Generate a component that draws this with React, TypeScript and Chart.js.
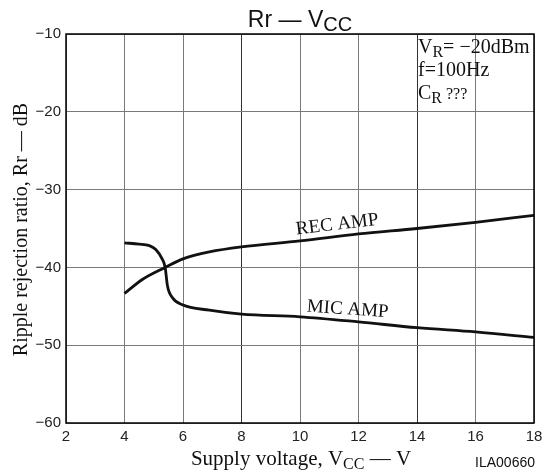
import React, { useEffect, useRef } from "react";
import { Chart, registerables } from "chart.js";

Chart.register(...registerables);

// ---- data ----
const xTicks = [2, 4, 6, 8, 10, 12, 14, 16, 18];
const yTicks = [-60, -50, -40, -30, -20, -10];

const micVoltage = [4, 4.5, 4.85, 5.07, 5.3, 5.39, 5.47, 5.64, 5.98, 6.9, 8, 10, 12, 14, 16, 18];
const micRipple = [-36.85, -37.0, -37.2, -37.7, -39.0, -40.0, -42.4, -43.9, -44.8, -45.5, -46.0, -46.35, -47.0, -47.75, -48.3, -49.0];

const recVoltage = [4, 4.61, 5.39, 6, 6.9, 8, 10, 12, 14, 16, 18];
const recRipple = [-43.35, -41.55, -40.0, -38.9, -38.0, -37.35, -36.6, -35.7, -35.0, -34.2, -33.3];

const SANS = "'Liberation Sans', Arial, sans-serif";
const SERIF = "'Liberation Serif', 'Times New Roman', serif";

type Part = { t: string; font: string; dy?: number };

function drawRich(ctx: CanvasRenderingContext2D, parts: Part[], x: number, y: number, align: "left" | "center" | "right") {
  let total = 0;
  for (const p of parts) {
    ctx.font = p.font;
    total += ctx.measureText(p.t).width;
  }
  let cx = align === "left" ? x : align === "center" ? x - total / 2 : x - total;
  ctx.textAlign = "left";
  ctx.textBaseline = "alphabetic";
  for (const p of parts) {
    ctx.font = p.font;
    ctx.fillText(p.t, cx, y + (p.dy || 0));
    cx += ctx.measureText(p.t).width;
  }
}

const textPlugin = {
  id: "textPlugin",
  afterDraw(chart: any) {
    const ctx: CanvasRenderingContext2D = chart.ctx;
    const { left, right, top, bottom } = chart.chartArea;
    const xs = chart.scales.x;
    const ys = chart.scales.y;
    ctx.save();
    // border
    ctx.strokeStyle = "#000";
    ctx.lineWidth = 1.5;
    ctx.strokeRect(left, top, right - left, bottom - top);

    ctx.fillStyle = "#111";
    // title
    drawRich(
      ctx,
      [
        { t: "Rr \u2014 V", font: `23px ${SANS}` },
        { t: "CC", font: `20px ${SANS}`, dy: 4 },
      ],
      300,
      27,
      "center"
    );

    // y axis title
    ctx.save();
    ctx.translate(27, (top + bottom) / 2 + 1);
    ctx.rotate(-Math.PI / 2);
    drawRich(ctx, [{ t: "Ripple rejection ratio, Rr \u2014 dB", font: `20px ${SERIF}` }], 0, 0, "center");
    ctx.restore();

    // x axis title
    drawRich(
      ctx,
      [
        { t: "Supply voltage, V", font: `21px ${SERIF}` },
        { t: "CC", font: `16px ${SERIF}`, dy: 4 },
        { t: " \u2014 V", font: `21px ${SERIF}` },
      ],
      301,
      465,
      "center"
    );

    // figure id
    drawRich(ctx, [{ t: "ILA00660", font: `14px ${SANS}` }], 535, 467, "right");

    // conditions
    const ax = 418;
    drawRich(
      ctx,
      [
        { t: "V", font: `20px ${SERIF}` },
        { t: "R", font: `16px ${SERIF}`, dy: 4 },
        { t: "= \u221220dBm", font: `20px ${SERIF}` },
      ],
      ax,
      top + 19,
      "left"
    );
    drawRich(ctx, [{ t: "f=100Hz", font: `20px ${SERIF}` }], ax, top + 42, "left");
    drawRich(
      ctx,
      [
        { t: "C", font: `20px ${SERIF}` },
        { t: "R", font: `16px ${SERIF}`, dy: 4 },
        { t: " ???", font: `16px ${SERIF}` },
      ],
      ax,
      top + 65,
      "left"
    );

    // curve labels
    const drawRot = (txt: string, vx: number, vy: number, ang: number) => {
      ctx.save();
      ctx.translate(xs.getPixelForValue(vx), ys.getPixelForValue(vy));
      ctx.rotate((ang * Math.PI) / 180);
      ctx.font = `19px ${SERIF}`;
      ctx.textAlign = "center";
      ctx.textBaseline = "middle";
      ctx.fillText(txt, 0, 0);
      ctx.restore();
    };
    drawRot("REC AMP", 11.27, -34.5, -6.7);
    drawRot("MIC AMP", 11.63, -45.4, 4);
    ctx.restore();
  },
};

export default function App() {
  const ref = useRef<HTMLCanvasElement | null>(null);
  useEffect(() => {
    document.body.style.margin = "0";
    const canvas = ref.current!;
    const chart = new Chart(canvas, {
      type: "line",
      data: {
        datasets: [
          {
            label: "MIC AMP",
            data: micVoltage.map((v, i) => ({ x: v, y: micRipple[i] })),
            borderColor: "#111",
            borderWidth: 2.8,
            pointRadius: 0,
            cubicInterpolationMode: "monotone",
            fill: false,
          },
          {
            label: "REC AMP",
            data: recVoltage.map((v, i) => ({ x: v, y: recRipple[i] })),
            borderColor: "#111",
            borderWidth: 2.8,
            pointRadius: 0,
            cubicInterpolationMode: "monotone",
            fill: false,
          },
        ],
      },
      options: {
        animation: false,
        responsive: false,
        devicePixelRatio: 1,
        layout: { padding: { top: 34, right: 16, left: 0, bottom: 0 } },
        plugins: { legend: { display: false }, tooltip: { enabled: false }, title: { display: false } },
        scales: {
          x: {
            type: "linear",
            min: xTicks[0],
            max: xTicks[xTicks.length - 1],
            afterBuildTicks: (s: any) => {
              s.ticks = xTicks.map((v) => ({ value: v }));
            },
            afterFit: (s: any) => {
              s.height = 50;
            },
            border: { display: false },
            grid: {
              drawTicks: false,
              color: (c: any) => (c.tick && (c.tick.value === 8 || c.tick.value === 14) ? "#333" : "#7a7a7a"),
              lineWidth: 1,
            },
            ticks: {
              padding: 5,
              color: "#222",
              font: { family: SANS, size: 15 },
              maxRotation: 0,
              autoSkip: false,
            },
          },
          y: {
            type: "linear",
            min: yTicks[0],
            max: yTicks[yTicks.length - 1],
            afterBuildTicks: (s: any) => {
              s.ticks = yTicks.map((v) => ({ value: v }));
            },
            afterFit: (s: any) => {
              s.width = 66;
            },
            border: { display: false },
            grid: { drawTicks: false, color: "#7a7a7a", lineWidth: 1 },
            ticks: {
              padding: 5,
              color: "#222",
              font: { family: SANS, size: 15 },
              autoSkip: false,
              callback: (v: any) => String(v).replace("-", "\u2212"),
            },
          },
        },
      },
      plugins: [textPlugin],
    } as any);
    return () => chart.destroy();
  }, []);
  return <canvas ref={ref} width={550} height={473} style={{ display: "block", width: 550, height: 473 }} />;
}
